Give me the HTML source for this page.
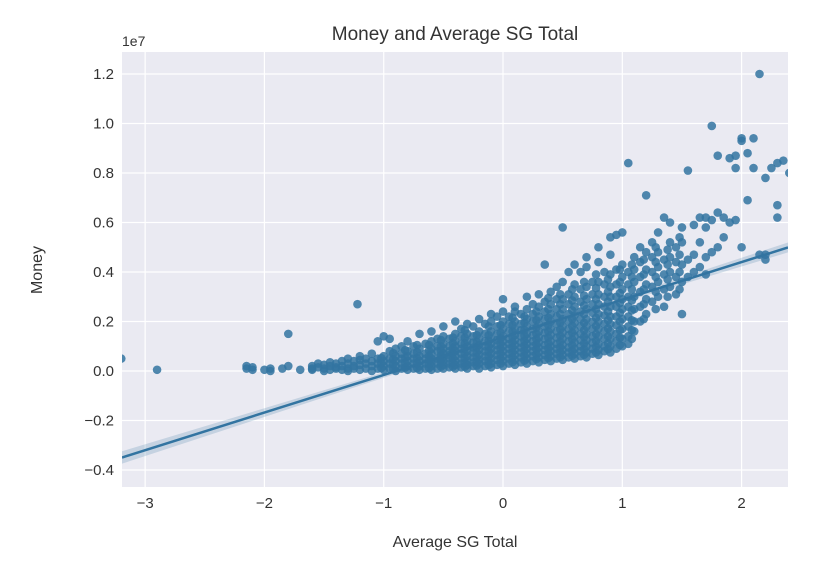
<!DOCTYPE html>
<html><head><meta charset="utf-8"><style>
body{margin:0;background:#fff;font-family:"Liberation Sans",sans-serif}
svg text{font-family:"Liberation Sans",sans-serif;fill:#333}
</style></head><body>
<svg id="chart" width="822" height="572" viewBox="0 0 822 572">
<rect x="122" y="52" width="666" height="435" fill="#eaeaf2"/>
<g id="grid"></g>
<g id="band"></g>
<g id="pts"></g>
<g id="reg"></g>
<g id="ticks"></g>
<text x="455" y="40" font-size="19" text-anchor="middle">Money and Average SG Total</text>
<text x="122" y="46" font-size="14">1e7</text>
<text x="455" y="547" font-size="16" text-anchor="middle">Average SG Total</text>
<text x="0" y="0" font-size="16" text-anchor="middle" transform="translate(42,270) rotate(-90)">Money</text>
</svg>
<script>
const xTicks=[-3,-2,-1,0,1,2];
const yTicks=[-4,-2,0,2,4,6,8,10,12];
const yTickLabels=["−0.4","−0.2","0.0","0.2","0.4","0.6","0.8","1.0","1.2"];
const regression=[1.36,1.52]; // intercept, slope (millions)
const outliers=[[-3.2,0.5],[-2.9,0.05],[-1.22,2.7],[-1.8,1.5]];
const columns=[
"-2.15:0.1,0.2","-2.1:0.15,0.05","-2.0:0.05","-1.95:0.0,0.1","-1.85:0.1","-1.8:0.2","-1.7:0.05",
"-1.6:0.1,0.2,0.05","-1.55:0.15,0.3","-1.5:0.1,0.25,0.0","-1.45:0.2,0.35,0.05","-1.4:0.1,0.3,0.15",
"-1.35:0.2,0.4,0.05","-1.3:0.1,0.3,0.5,0.0","-1.25:0.2,0.4,0.1","-1.2:0.05,0.25,0.45,0.6",
"-1.15:0.1,0.3,0.5","-1.1:0.0,0.2,0.4,0.7","-1.05:0.1,0.3,0.5,1.2","-1.0:0.05,0.2,0.4,0.6,1.4",
"-0.95:0.1,0.3,0.5,0.8,1.3","-0.9:0.0,0.2,0.4,0.6,0.9","-0.85:0.1,0.3,0.5,0.7,1.0",
"-0.8:0.05,0.2,0.4,0.6,0.8,1.2","-0.75:0.1,0.3,0.5,0.7,1.0","-0.7:0.05,0.2,0.4,0.6,0.9,1.5",
"-0.65:0.1,0.3,0.5,0.7,1.1","-0.6:0.05,0.2,0.35,0.5,0.7,0.9,1.2,1.6","-0.55:0.1,0.3,0.5,0.8,1.0,1.3",
"-0.5:0.1,0.25,0.4,0.55,0.7,0.9,1.1,1.4,1.8","-0.45:0.15,0.3,0.5,0.65,0.8,1.0,1.3",
"-0.4:0.1,0.25,0.4,0.6,0.8,1.0,1.2,1.5,2.0","-0.35:0.15,0.3,0.5,0.7,0.9,1.1,1.4,1.7",
"-0.3:0.1,0.25,0.4,0.6,0.8,1.0,1.2,1.5,1.9","-0.25:0.2,0.35,0.55,0.75,0.95,1.15,1.4,1.8",
"-0.2:0.1,0.3,0.45,0.65,0.85,1.05,1.3,1.6,2.1","-0.15:0.2,0.4,0.6,0.8,1.0,1.2,1.5,1.9",
"-0.1:0.15,0.3,0.5,0.7,0.9,1.1,1.3,1.6,2.0,2.3","-0.05:0.25,0.45,0.65,0.85,1.05,1.25,1.5,1.8,2.2",
"0.0:0.2,0.4,0.6,0.8,1.0,1.2,1.4,1.7,2.0,2.4,2.9","0.05:0.3,0.5,0.7,0.9,1.1,1.3,1.6,1.9,2.2",
"0.1:0.25,0.45,0.65,0.85,1.05,1.25,1.45,1.7,2.0,2.4,2.6","0.15:0.35,0.55,0.75,0.95,1.15,1.4,1.65,1.9,2.3",
"0.2:0.3,0.5,0.7,0.9,1.1,1.3,1.5,1.8,2.1,2.5,3.0","0.25:0.4,0.6,0.8,1.0,1.2,1.45,1.7,2.0,2.3,2.7",
"0.3:0.35,0.55,0.75,0.95,1.15,1.35,1.6,1.9,2.2,2.6,3.1","0.35:0.45,0.65,0.85,1.05,1.3,1.55,1.8,2.1,2.4,2.8,4.3",
"0.4:0.4,0.6,0.8,1.0,1.2,1.45,1.7,2.0,2.3,2.7,3.2","0.45:0.5,0.7,0.9,1.1,1.35,1.6,1.9,2.2,2.5,2.9,3.4",
"0.5:0.45,0.65,0.85,1.05,1.3,1.55,1.8,2.1,2.5,2.9,3.6,5.8","0.55:0.55,0.75,0.95,1.2,1.45,1.7,2.0,2.3,2.7,3.1,4.0",
"0.6:0.5,0.7,0.9,1.15,1.4,1.65,1.95,2.25,2.6,3.0,3.5,4.3","0.65:0.6,0.8,1.0,1.25,1.5,1.8,2.1,2.4,2.8,3.3,4.0",
"0.7:0.55,0.75,1.0,1.25,1.5,1.8,2.1,2.5,2.9,3.4,4.2,4.6","0.75:0.7,0.9,1.15,1.4,1.7,2.0,2.35,2.7,3.1,3.6",
"0.8:0.65,0.85,1.1,1.4,1.7,2.0,2.3,2.7,3.1,3.6,4.4,5.0","0.85:0.8,1.0,1.3,1.6,1.9,2.25,2.6,3.0,3.5,4.0",
"0.9:0.75,1.0,1.3,1.6,1.9,2.2,2.6,3.0,3.4,3.9,4.7,5.4","0.95:0.9,1.2,1.5,1.85,2.2,2.6,3.0,3.5,4.1,5.5",
"1.0:1.0,1.3,1.7,2.1,2.5,2.9,3.3,3.8,4.3,5.6","1.05:1.1,1.4,1.8,2.2,2.6,3.0,3.5,4.0,8.4",
"1.1:1.6,2.0,2.5,3.0,3.6,4.1,4.6","1.15:2.0,2.6,3.2,3.8,4.4,5.0","1.2:2.3,2.9,3.5,4.1,4.8,7.1",
"1.25:2.8,3.4,4.0,4.6,5.2","1.3:3.0,3.6,4.2,4.8,5.6","1.35:2.6,3.3,3.9,4.5,6.2","1.4:3.4,4.0,4.6,5.2,6.0",
"1.45:3.1,3.8,4.4,5.0","1.5:2.3,3.6,4.3,5.2,5.8","1.55:3.8,4.5,8.1","1.6:4.0,4.7,5.9","1.65:4.2,5.2,6.2",
"1.7:3.9,4.6,5.8,6.2","1.75:4.8,6.1,9.9","1.8:5.0,6.4,8.7","1.85:5.4,6.2","1.9:6.0,8.6","1.95:6.1,8.2,8.7",
"2.0:5.0,9.4,9.3","2.05:6.9,8.8","2.1:8.2,9.4","2.15:12.0,4.7","2.2:4.5,4.7,7.8","2.25:8.2",
"2.3:6.7,6.2,8.4","2.35:8.5","2.4:8.0"];
const extraColumns=[
"-1.02:0.12,0.32,0.52","-0.92:0.08,0.28,0.48,0.72","-0.82:0.14,0.34,0.54,0.84","-0.72:0.12,0.32,0.52,0.76,1.05",
"-0.62:0.12,0.28,0.44,0.62,0.82,1.05","-0.52:0.18,0.34,0.48,0.64,0.82,1.0,1.25","-0.42:0.18,0.34,0.52,0.72,0.92,1.12,1.35",
"-0.32:0.18,0.34,0.52,0.72,0.92,1.12,1.35,1.65","-0.22:0.22,0.38,0.56,0.76,0.96,1.18,1.45","-0.12:0.24,0.4,0.6,0.8,1.0,1.22,1.45,1.8",
"-0.02:0.3,0.5,0.7,0.9,1.1,1.32,1.55,1.85","0.08:0.36,0.56,0.76,0.96,1.16,1.38,1.6,1.85,2.15","0.18:0.42,0.62,0.82,1.02,1.22,1.42,1.65,1.95,2.2",
"0.28:0.48,0.68,0.88,1.08,1.28,1.5,1.75,2.05,2.4","0.38:0.52,0.72,0.92,1.12,1.35,1.6,1.85,2.15,2.5,2.95","0.48:0.56,0.76,0.96,1.18,1.42,1.68,1.95,2.3,2.7,3.1",
"0.58:0.62,0.82,1.04,1.28,1.55,1.82,2.1,2.45,2.85,3.3","0.68:0.66,0.88,1.12,1.38,1.65,1.95,2.3,2.65,3.05,3.6","0.78:0.75,0.98,1.22,1.5,1.82,2.15,2.5,2.9,3.35,3.9",
"0.88:0.88,1.12,1.4,1.72,2.05,2.4,2.8,3.2,3.7","0.98:1.05,1.35,1.65,2.0,2.35,2.75,3.15,3.6,4.1","1.08:1.3,1.65,2.05,2.45,2.85,3.3,3.8,4.3",
"1.18:2.1,2.7,3.3,3.9,4.5","1.28:2.5,3.2,3.8,4.4,5.0","1.38:3.0,3.7,4.3,4.9","1.48:3.3,4.0,4.7,5.4"];
const NS='http://www.w3.org/2000/svg';
const X0=-3.194,X1=2.389,PL=122,PR=788,PT=52,PB=487;
const sx=v=>PL+(v-X0)/(X1-X0)*(PR-PL);
const sy=v=>371-v*24.75;
function mk(tag,attrs,parent){const e=document.createElementNS(NS,tag);for(const k in attrs)e.setAttribute(k,attrs[k]);parent.appendChild(e);return e;}
const grid=document.getElementById('grid'),ticks=document.getElementById('ticks');
xTicks.forEach(t=>{
 const l=mk('line',{x1:sx(t),x2:sx(t),y1:PT,y2:PB,stroke:'#fff','stroke-width':1.2},grid);
 
 
 const tx=mk('text',{x:sx(t),y:PB+21,'font-size':15,'text-anchor':'middle'},ticks);
 tx.textContent=(t<0?'−':'')+Math.abs(t);
 
 
});
yTicks.forEach((t,i)=>{
 const l=mk('line',{x1:PL,x2:PR,y1:sy(t),y2:sy(t),stroke:'#fff','stroke-width':1.2},grid);
 
 
 const tx=mk('text',{x:PL-8,y:sy(t)+5,'font-size':15,'text-anchor':'end'},ticks);
 tx.textContent=yTickLabels[i];
 
 
});
const ptsG=document.getElementById('pts');
const pts=outliers.slice();
columns.concat(extraColumns).forEach(c=>{const [x,ys]=c.split(':');ys.split(',').forEach(y=>pts.push([+x,+y]));});
pts.forEach(p=>{
 const c=mk('circle',{cx:sx(p[0]),cy:sy(p[1]),r:4.3,fill:'#3274a1','fill-opacity':0.85},ptsG);
 
 
});
const f=x=>regression[0]+regression[1]*x;
const band=document.getElementById('band');
const bp=mk('polygon',{points:`${sx(X0)},${sy(f(X0)+0.25)} ${sx(0)},${sy(f(0)+0.05)} ${sx(X1)},${sy(f(X1)+0.2)} ${sx(X1)},${sy(f(X1)-0.2)} ${sx(0)},${sy(f(0)-0.05)} ${sx(X0)},${sy(f(X0)-0.25)}`,fill:'#3274a1','fill-opacity':0.2},band);


const rl=mk('line',{x1:sx(X0),y1:sy(f(X0)),x2:sx(X1),y2:sy(f(X1)),stroke:'#3274a1','stroke-width':2.5},document.getElementById('reg'));


const cp=mk('clipPath',{id:'cl'},document.getElementById('chart'));
mk('rect',{x:PL,y:PT,width:PR-PL,height:PB-PT},cp);
['pts','band','reg'].forEach(id=>document.getElementById(id).setAttribute('clip-path','url(#cl)'));
</script>
</body></html>
